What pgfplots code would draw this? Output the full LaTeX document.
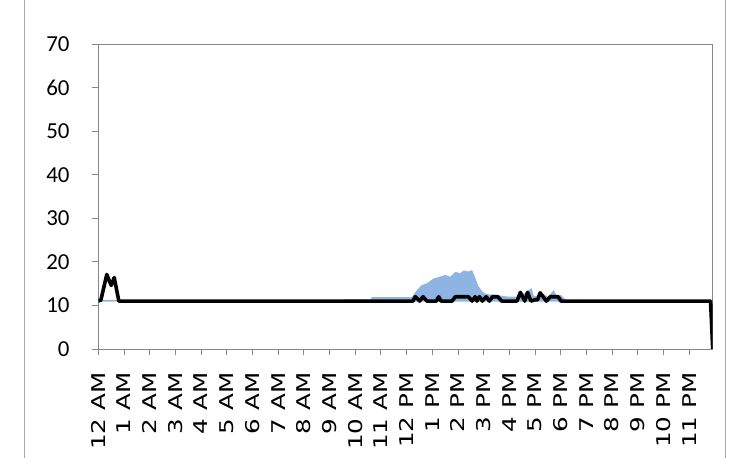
\documentclass[border=0pt]{standalone}
\usepackage{fontspec}
\setmainfont{Carlito}
\newfontfamily\dejavu{DejaVu Sans}
\usepackage{graphicx}
\usepackage{pgfplots}
\pgfplotsset{compat=1.18}
\definecolor{bandblue}{RGB}{141,180,227}
\definecolor{axgray}{RGB}{134,134,134}
\definecolor{framegray}{RGB}{170,170,170}
\newcommand\xl[1]{\scalebox{1.3}[1]{#1}\rule{17bp}{0pt}}
\begin{document}
\begin{tikzpicture}
\useasboundingbox (0bp,0bp) rectangle (748bp,458bp);
\draw[framegray, line width=1bp] (24.5bp,0bp) -- (24.5bp,458bp);
\draw[framegray, line width=1bp] (725.5bp,0bp) -- (725.5bp,458bp);
\begin{axis}[
  at={(98.3bp,109bp)}, anchor=south west,
  scale only axis, width=614.4bp, height=305bp,
  xmin=0, xmax=23.917, ymin=0, ymax=70,
  axis line style={axgray, line width=0.9bp},
  tick align=outside, tick pos=left,
  major tick length=6.5bp,
  tick style={axgray, line width=0.9bp},
  ytick={0,10,...,70},
  yticklabel={\pgfmathprintnumber{\tick}\rule{22bp}{0pt}},
  xtick={0,1,...,23},
  xticklabels={\xl{12 AM},\xl{1 AM},\xl{2 AM},\xl{3 AM},\xl{4 AM},\xl{5 AM},\xl{6 AM},\xl{7 AM},\xl{8 AM},\xl{9 AM},\xl{10 AM},\xl{11 AM},\xl{12 PM},\xl{1 PM},\xl{2 PM},\xl{3 PM},\xl{4 PM},\xl{5 PM},\xl{6 PM},\xl{7 PM},\xl{8 PM},\xl{9 PM},\xl{10 PM},\xl{11 PM}},
  xticklabel style={font=\dejavu\fontsize{19}{19}\selectfont, rotate=90, anchor=east, inner sep=0pt},
  yticklabel style={font=\fontsize{23}{23}\selectfont, anchor=east, inner sep=0pt},
  /pgf/number format/assume math mode=true,
]
\addplot[fill=bandblue, draw=none] coordinates {
(0,11.3) (0.8,11.3) (0.85,11.1) (9.5,11.1) (9.52,11.4) (10.6,11.4) (10.65,11.9) (12.2,11.9)
(12.4,13.5) (12.6,14.7) (12.8,15.1) (13.05,16.2) (13.31,16.6) (13.5,17.0) (13.7,16.6)
(13.9,17.7) (14.09,17.4) (14.22,18.0) (14.41,17.8) (14.55,18.1) (14.67,16.4) (14.8,14.4)
(14.95,13.2) (15.1,12.6) (15.5,12.4) (15.7,12.2) (16.0,12.0) (16.3,12.0) (16.5,12.6)
(16.7,13.2) (16.86,14.0) (16.95,12.2) (17.1,12.1) (17.3,12.7) (17.5,12.0) (17.73,13.5)
(17.85,12.1) (18.0,12.4) (18.2,11.3) (18.9,11.3) (18.95,11.0) (23.917,11.0)
(23.917,10.9) (0,10.9)
};
\addplot[black, line width=3.6bp, line join=round] coordinates {
(0,11) (0.1,11.2) (0.33,17.1) (0.5,14.6) (0.62,16.4) (0.8,11) (12.25,11) (12.34,12)
(12.51,11) (12.64,12) (12.79,11) (13.16,11) (13.25,12) (13.34,11) (13.77,11) (13.9,12)
(14.41,12) (14.55,11) (14.67,12) (14.74,11) (14.84,12) (14.95,11) (15.1,12) (15.22,11)
(15.35,12) (15.55,12) (15.7,11) (16.3,11) (16.43,13) (16.6,11) (16.71,13) (16.84,11)
(17.0,11.3) (17.1,11.3) (17.2,12.9) (17.44,11) (17.6,12) (17.9,12) (18.01,11)
(23.833,11) (23.917,0)
};
\end{axis}
\end{tikzpicture}
\end{document}
